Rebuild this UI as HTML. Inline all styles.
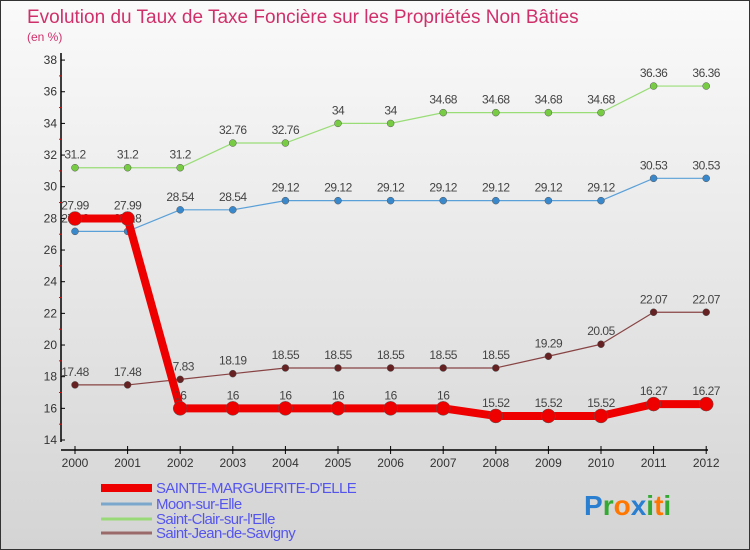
<!DOCTYPE html>
<html><head><meta charset="utf-8"><style>
body{margin:0}
#c{width:748px;height:548px;border:1px solid #333;background:linear-gradient(#fafafa,#d4d4d4);position:relative;overflow:hidden;font-family:"Liberation Sans",sans-serif}
</style></head><body>
<div id="c">
<svg id="s" width="748" height="548" style="position:absolute;left:0;top:0"></svg>
</div>
<script>
const years=[2000,2001,2002,2003,2004,2005,2006,2007,2008,2009,2010,2011,2012];
const yTicks=[14,16,18,20,22,24,26,28,30,32,34,36,38];
const sMarg=[27.99,27.99,16,16,16,16,16,16,15.52,15.52,15.52,16.27,16.27];
const sMoon=[27.18,27.18,28.54,28.54,29.12,29.12,29.12,29.12,29.12,29.12,29.12,30.53,30.53];
const sClair=[31.2,31.2,31.2,32.76,32.76,34,34,34.68,34.68,34.68,34.68,36.36,36.36];
const sJean=[17.48,17.48,17.83,18.19,18.55,18.55,18.55,18.55,18.55,19.29,20.05,22.07,22.07];
const names=["SAINTE-MARGUERITE-D'ELLE","Moon-sur-Elle","Saint-Clair-sur-l'Elle","Saint-Jean-de-Savigny"];
const NS="http://www.w3.org/2000/svg",svg=document.getElementById('s');
const X=i=>74+i*52.6, Y=v=>439-(v-14)*15.83;
function mk(t,a,p){const e=document.createElementNS(NS,t);for(const k in a)e.setAttribute(k,a[k]);(p||svg).appendChild(e);return e;}
let t=mk('text',{x:26,y:22,'font-size':19,fill:'#d0306a'});t.textContent='Evolution du Taux de Taxe Foncière sur les Propriétés Non Bâties';


t=mk('text',{x:26,y:40,'font-size':12,fill:'#d0306a'});t.textContent='(en %)';


let a=mk('line',{x1:60,y1:52,x2:60,y2:441,stroke:'#000','stroke-width':1.5});


a=mk('line',{x1:60,y1:449,x2:707,y2:449,stroke:'#000','stroke-width':1.5});


yTicks.forEach(v=>{mk('line',{x1:60,y1:Y(v),x2:64,y2:Y(v),stroke:'#000'});
 if(v<38)mk('line',{x1:58,y1:Y(v+1),x2:61,y2:Y(v+1),stroke:'#e00'});
 const l=mk('text',{x:56,y:Y(v)+4,'font-size':12,fill:'#333','text-anchor':'end'});l.textContent=v;
 
 });
years.forEach((y,i)=>{mk('line',{x1:X(i),y1:445,x2:X(i),y2:453,stroke:'#000'});
 const l=mk('text',{x:X(i),y:466,'font-size':12,fill:'#333','text-anchor':'middle'});l.textContent=y;
 
 });
function series(d,col,w,r,dot,nm){
 const p=mk('polyline',{points:d.map((v,i)=>X(i)+','+Y(v)).join(' '),fill:'none',stroke:col,'stroke-width':w,'stroke-linejoin':'round'});
 
 
 d.forEach((v,i)=>{const c=mk('circle',{cx:X(i),cy:Y(v),r:r,fill:dot,stroke:'#555','stroke-width':0.5});
  
  
  const l=mk('text',{x:X(i),y:Y(v)-9,'font-size':12,fill:'#444','text-anchor':'middle','letter-spacing':'-0.5'});l.textContent=v;
  
  });
}
series(sClair,'#99dd77',1.2,3.5,'#77cc44','saint-clair');
series(sMoon,'#5aa0d8',1.2,3.5,'#3a88cc','moon');
series(sJean,'#884444',1.2,3.5,'#662222','saint-jean');
series(sMarg,'#ee0000',8,7,'#ee0000','sainte-marguerite');
const lc=['#ee0000','#7ba7cc','#99d977','#9a6a6a'],lw=[8,3,3,3],ly=[492,508,523,537];
names.forEach((n,i)=>{const g=mk('g',{});
 
 
 mk('line',{x1:100,y1:ly[i]-5,x2:151,y2:ly[i]-5,stroke:lc[i],'stroke-width':lw[i]},g);
 const l=mk('text',{x:155,y:ly[i],'font-size':15,fill:'#5555ee','letter-spacing':'-0.6'},g);l.textContent=n;});
const lg=mk('text',{x:583,y:514,'font-size':28,'font-weight':'bold'});


[['P','#2a7fd0'],['r','#33aa33'],['o','#ff7700'],['x','#2a7fd0'],['i','#33aa33'],['t','#ff7700'],['i','#33aa33']].forEach(([c,f])=>{const s=mk('tspan',{fill:f},lg);s.textContent=c;});
</script>
</body></html>
